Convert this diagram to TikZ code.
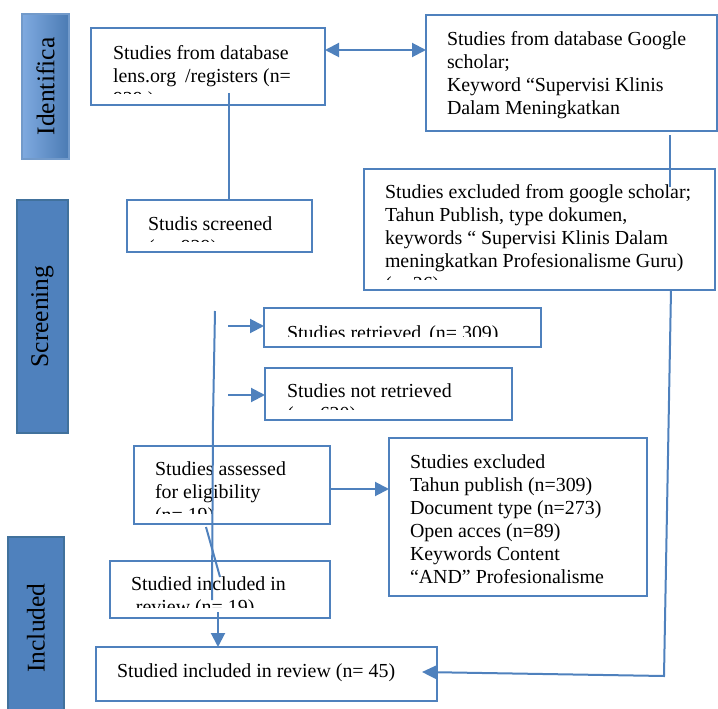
\documentclass[tikz,border=0pt]{standalone}
\usepackage{fontspec}
\setmainfont{Liberation Serif}
\usetikzlibrary{arrows.meta}
\definecolor{bl}{HTML}{4F81BD}
\definecolor{bldark}{HTML}{41719C}
\definecolor{bllight}{HTML}{7FAAE0}
\tikzset{
  boxst/.style={draw=bl, line width=2.9pt, fill=white, inner sep=0pt, outer sep=0pt, rectangle},
  txt/.style={inner sep=0pt, outer sep=0pt, align=left, font=\fontsize{19.9}{23}\selectfont},
  conn/.style={draw=bl, line width=2pt},
  arr/.style={conn, -{Triangle[length=14pt, width=14pt]}},
  side/.style={draw=bldark, line width=1.2pt, fill=bl, inner sep=0pt},
  sidetxt/.style={rotate=90, font=\fontsize{25.5}{28}\selectfont, inner sep=0pt}
}
\newcommand{\prbox}[8]{%
  \node[boxst, minimum width={(#4-#2)*1pt}, minimum height={(#5-#3)*1pt}] (#1) at ({(#2+#4)/2},{(#3+#5)/2}) {};
  \begin{scope}
    \clip (#2+1.5,#3+1.5) rectangle (#4-1.5,#5-11);
    \node[txt, anchor=north west] (#1-t) at (#6,#7-16.1) {\strut #8};
  \end{scope}}
\begin{document}
\begin{tikzpicture}[x=1pt,y=-1pt]
\useasboundingbox (0,0) rectangle (718,709);
% side bars
\node[side, draw=bl!80, shading=axis, left color=bllight, right color=bl!95!black, minimum width=47pt, minimum height=145pt] (sid1) at (45.5,86.5) {};
\node[sidetxt] (sid1t) at (sid1.center) {Identifica};
\node[side, minimum width=51pt, minimum height=233pt] (sid2) at (42.5,316.5) {};
\node[sidetxt] (sid2t) at (sid2.center) {Screening};
\node[side, minimum width=56pt, minimum height=176pt] (sid3) at (36,625) {};
\node[sidetxt] (sid3t) at (36,628) {Included};
% boxes
\prbox{b1}{91}{28}{325}{105}{113}{60}{Studies from database\\lens.org\hspace{9pt}/registers (n=\\929 )}
\prbox{b2}{426}{15}{717}{131}{447}{45}{Studies from database Google\\scholar;\\Keyword “Supervisi Klinis\\Dalam Meningkatkan\\Profesionalisme Guru”}
\prbox{scr}{127}{200}{312}{252}{148}{230}{Studis screened\\(n= 929)}
\prbox{exg}{364}{169}{715}{290}{385}{198}{Studies excluded from google scholar;\\Tahun Publish, type dokumen,\\keywords “ Supervisi Klinis Dalam\\meningkatkan Profesionalisme Guru)\\(n=26)}
\prbox{ret}{264}{308}{541}{347}{287}{339}{Studies retrieved\hspace{8pt}(n= 309)}
\prbox{nret}{265}{368}{512}{420}{287}{397}{Studies not retrieved\\(n= 620)}
\prbox{elig}{134}{446}{330}{524}{155}{475}{Studies assessed\\for eligibility\\(n= 19)}
\prbox{exc}{389}{438}{647}{596}{410}{468}{Studies excluded\\Tahun publish (n=309)\\Document type (n=273)\\Open acces (n=89)\\Keywords Content\\“AND” Profesionalisme}
\prbox{inc}{110}{561}{330}{618}{131}{590}{Studied included in\\ \ review (n= 19)}
\prbox{fin}{96}{647}{437}{701}{117}{677}{Studied included in review (n= 45)}
% connectors
\draw[conn, {Triangle[length=14pt, width=14pt]}-{Triangle[length=14pt, width=14pt]}] (b1.east |- 0,50) -- (b2.west |- 0,50);
\coordinate (c1) at (229,93);
\draw[conn] (c1) -- (c1 |- scr.north);
\coordinate (c2) at (670,135);
\draw[conn] (c2) -- (670,187);
\coordinate (c3) at (671,290);
\coordinate (c4) at (664,676);
\coordinate (c5) at (422,672);
\draw[conn, -{Triangle[length=15pt, width=14pt]}] (c3) -- (c4) -- (c5);
\coordinate (v1) at (215,311);
\coordinate (v2) at (213,420);
\coordinate (v3) at (212,600);
\draw[conn] (v1) -- (v2) -- (v3);
\coordinate (v4) at (218,612);
\draw[arr] (v4) -- (v4 |- fin.north);
\coordinate (a1) at (228,326);
\draw[arr] (a1) -- (a1 -| ret.west);
\coordinate (a2) at (228,395);
\draw[arr] (a2) -- (a2 -| nret.west);
\coordinate (s1) at (206,527);
\coordinate (s2) at (220,577);
\draw[conn] (s1) -- (s2);
\coordinate (e1) at (330,489);
\draw[arr] (e1) -- (e1 -| exc.west);
\end{tikzpicture}
\end{document}
